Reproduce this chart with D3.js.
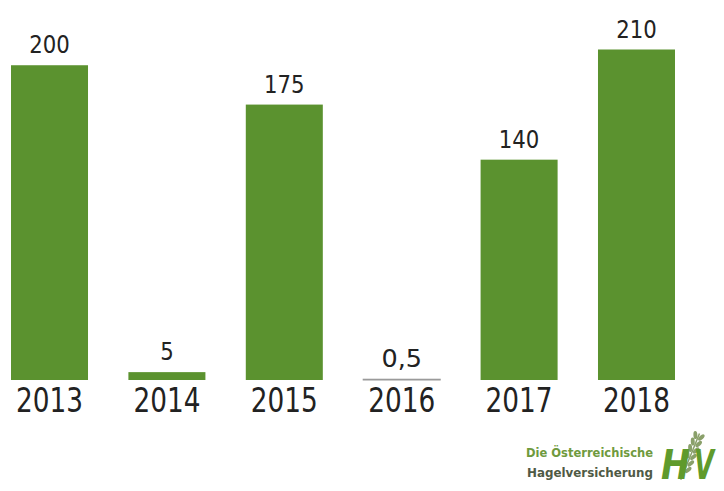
<!DOCTYPE html>
<html>
<head>
<meta charset="utf-8">
<script src="https://cdn.jsdelivr.net/npm/d3@7"></script>
<style>
  html, body { margin: 0; padding: 0; background: #ffffff; }
  svg { display: block; }
</style>
</head>
<body>
<svg id="chart" width="724" height="491"></svg>
<script>
// Hail damage per year (values as labelled)
const years = ["2013", "2014", "2015", "2016", "2017", "2018"];
const values = [200, 5, 175, 0.5, 140, 210];
const valueLabels = ["200", "5", "175", "0,5", "140", "210"];

const svg = d3.select("#chart");

const x = d3.scaleBand()
  .domain(years)
  .range([11, 675])
  .paddingInner(0.344)
  .paddingOuter(0);

const baseY = 380;
const y = d3.scaleLinear()
  .domain([0, 210])
  .range([baseY, 49.5]);

const green = "#5b922f";
const data = years.map((yr, i) => ({ year: yr, value: values[i], label: valueLabels[i] }));

// bars
svg.selectAll("rect.bar")
  .data(data)
  .join("rect")
  .attr("class", "bar")
  .attr("x", d => x(d.year))
  .attr("width", x.bandwidth())
  .attr("y", d => y(d.value))
  .attr("height", d => y(0) - y(d.value))
  .attr("fill", d => d.value < 1 ? "#9a9a9a" : green)
  .attr("stroke", d => d.value < 1 ? "#9a9a9a" : "none")
  .attr("stroke-width", 1);

// value labels
svg.selectAll("text.val")
  .data(data)
  .join("text")
  .attr("class", "val")
  .attr("x", d => x(d.year) + x.bandwidth() / 2)
  .attr("y", d => y(d.value) - 12)
  .attr("text-anchor", "middle")
  .attr("font-family", "'DejaVu Sans Condensed', 'DejaVu Sans', sans-serif")
  .attr("font-size", 24)
  .attr("fill", "#222")
  .attr("textLength", d => d.label.length * 13.5)
  .attr("lengthAdjust", "spacingAndGlyphs")
  .text(d => d.label);

// year axis
const xAxis = d3.axisBottom(x).tickSize(0).tickPadding(0);
const gx = svg.append("g")
  .attr("transform", `translate(0,${baseY})`)
  .call(xAxis);
gx.select(".domain").remove();
gx.selectAll("text")
  .attr("dy", null)
  .attr("y", 32)
  .attr("font-family", "'DejaVu Sans Condensed', sans-serif")
  .attr("font-size", 33)
  .attr("fill", "#222")
  .attr("textLength", 67)
  .attr("lengthAdjust", "spacingAndGlyphs");

// publisher mark
const logo = svg.append("g");
logo.append("text")
  .attr("x", 653).attr("y", 457)
  .attr("text-anchor", "end")
  .attr("font-family", "'DejaVu Sans Condensed', sans-serif")
  .attr("font-weight", "bold")
  .attr("font-size", 12.5)
  .attr("fill", "#6f9a3e")
  .attr("textLength", 127)
  .attr("lengthAdjust", "spacingAndGlyphs")
  .text("Die Österreichische");
logo.append("text")
  .attr("x", 653).attr("y", 477)
  .attr("text-anchor", "end")
  .attr("font-family", "'DejaVu Sans Condensed', sans-serif")
  .attr("font-weight", "bold")
  .attr("font-size", 12.5)
  .attr("fill", "#4f5a45")
  .attr("textLength", 126)
  .attr("lengthAdjust", "spacingAndGlyphs")
  .text("Hagelversicherung");

// wheat ear between the letters
const ear = logo.append("g").attr("transform", "translate(692,452) rotate(22)");
ear.append("line").attr("x1", 0).attr("y1", -20).attr("x2", 0).attr("y2", 30)
  .attr("stroke", "#8aa06a").attr("stroke-width", 1.5);
d3.range(6).forEach(i => {
  const yy = -17 + i * 7;
  ear.append("ellipse").attr("cx", -3.2).attr("cy", yy).attr("rx", 2).attr("ry", 4)
    .attr("transform", `rotate(-25,-3.2,${yy})`).attr("fill", "#8aa06a");
  ear.append("ellipse").attr("cx", 3.2).attr("cy", yy).attr("rx", 2).attr("ry", 4)
    .attr("transform", `rotate(25,3.2,${yy})`).attr("fill", "#8aa06a");
});

logo.append("text")
  .attr("x", 661).attr("y", 479)
  .attr("font-family", "'DejaVu Sans', sans-serif")
  .attr("font-weight", "bold")
  .attr("font-style", "italic")
  .attr("font-size", 40)
  .attr("fill", "#5f9a2c")
  .attr("textLength", 29)
  .attr("lengthAdjust", "spacingAndGlyphs")
  .text("H");
logo.append("text")
  .attr("x", 694).attr("y", 479)
  .attr("font-family", "'DejaVu Sans', sans-serif")
  .attr("font-weight", "bold")
  .attr("font-style", "italic")
  .attr("font-size", 40)
  .attr("fill", "#5f9a2c")
  .attr("textLength", 20)
  .attr("lengthAdjust", "spacingAndGlyphs")
  .text("V");
</script>
</body>
</html>
